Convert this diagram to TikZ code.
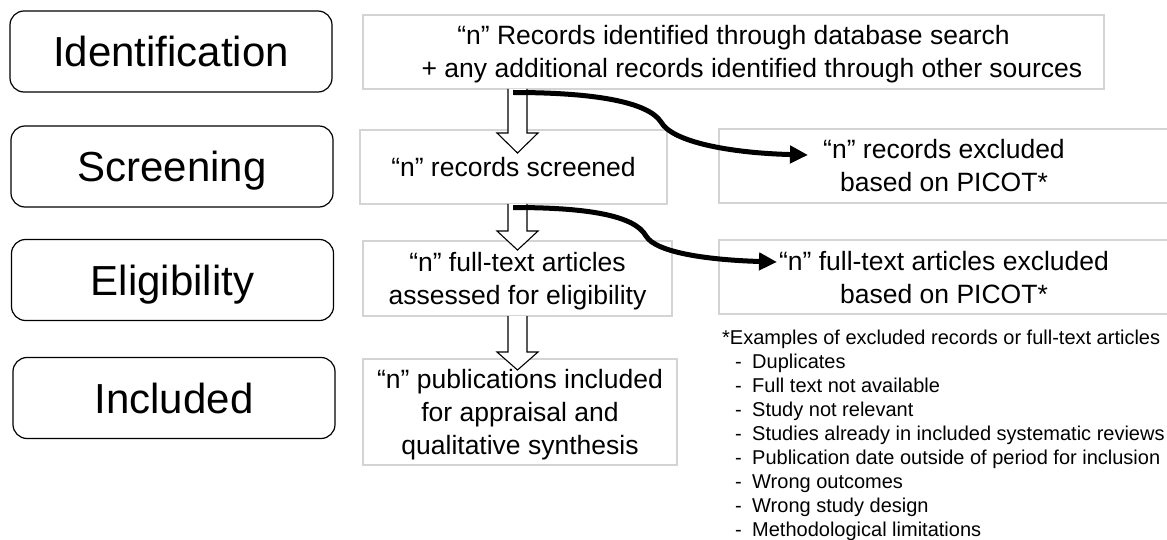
\documentclass[tikz,border=0pt]{standalone}
\usepackage{fontspec}
\setmainfont{Liberation Sans}
\usetikzlibrary{arrows.meta}
\newcommand\bst{\rule[-7pt]{0pt}{33pt}}
\newcommand\hollowarr[4]{% x-centre, y-start, y-headbase, y-tip
  \draw[hollow] (#1-9.5,#2) -- (#1-9.5,#3) -- (#1-20.5,#3) -- (#1,#4) -- (#1+20.5,#3) -- (#1+9.5,#3) -- (#1+9.5,#2);}
\newcommand\itm[1]{\hspace*{13pt}\makebox[17pt][l]{-}#1}
\tikzset{
  stage/.style={draw=black, line width=1.2pt, rounded corners=14pt,
    font=\fontsize{42}{50}\selectfont, text height=36pt, text depth=6pt,
    inner sep=0pt, minimum width=322pt, minimum height=81pt},
  infobox/.style={draw=black!17, line width=1.2pt, fill=white,
    font=\fontsize{26.5}{33}\selectfont, align=center, inner sep=0pt},
  hollow/.style={draw=black, line width=1.1pt, fill=white, line join=miter},
  bigarrow/.style={line width=5pt, -{Triangle[length=18pt,width=17pt]}},
  note/.style={font=\fontsize{20}{24}\selectfont, align=left, inner sep=0pt, anchor=base west}
}
\begin{document}
\begin{tikzpicture}[x=1pt,y=-1pt]
\useasboundingbox (0,0) rectangle (1167,540);

% stage labels
\node[stage] (sid)  at (171,51.5)  {Identification};
\node[stage] (sscr) at (172,166.5) {Screening};
\node[stage] (seli) at (172.5,280) {Eligibility};
\node[stage] (sinc) at (174,398)   {Included};

% information boxes
\node[infobox, minimum width=741pt, minimum height=74pt] (rec) at (733.5,52)
  {\bst “n” Records identified through database search\\\hspace*{37pt}\bst + any additional records identified through other sources};
\node[infobox, minimum width=307pt, minimum height=74pt] (scrd) at (513.5,167)
  {\bst “n” records screened};
\node[infobox, minimum width=450pt, minimum height=74pt] (exc1) at (944,166)
  {\bst “n” records excluded\\\bst based on PICOT*};
\node[infobox, minimum width=309pt, minimum height=75pt] (ft) at (517.5,278.5)
  {\bst “n” full-text articles\\\bst assessed for eligibility};
\node[infobox, minimum width=450pt, minimum height=74pt] (exc2) at (944,277)
  {\bst “n” full-text articles excluded\\\bst based on PICOT*};
\node[infobox, minimum width=314pt, minimum height=106pt] (incd) at (520,412)
  {\bst “n” publications included\\\bst for appraisal and\\\bst qualitative synthesis};

% hollow block arrows
\hollowarr{517.5}{89}{133}{153}
\hollowarr{517.5}{204}{231}{250}
\hollowarr{517.5}{316}{352}{370}

% curved exclusion arrows
\coordinate (e1s) at (513,92.5);
\coordinate (e1t) at (808,155);
\coordinate (e2s) at (513,207.5);
\coordinate (e2t) at (777,262);
\draw[bigarrow] (e1s) .. controls (595,92.5) and (648,102) .. (661,122)
  .. controls (672,142) and (730,153) .. (e1t);
\draw[bigarrow] (e2s) .. controls (590,207.5) and (635,216) .. (646,236)
  .. controls (656,253) and (710,260) .. (e2t);

% footnote (base anchor = baseline of last line)
\node[note] (fn) at (722,536) {*Examples of excluded records or full-text articles\\
\itm{Duplicates}\\
\itm{Full text not available}\\
\itm{Study not relevant}\\
\itm{Studies already in included systematic reviews}\\
\itm{Publication date outside of period for inclusion}\\
\itm{Wrong outcomes}\\
\itm{Wrong study design}\\
\itm{Methodological limitations}};
\end{tikzpicture}
\end{document}
